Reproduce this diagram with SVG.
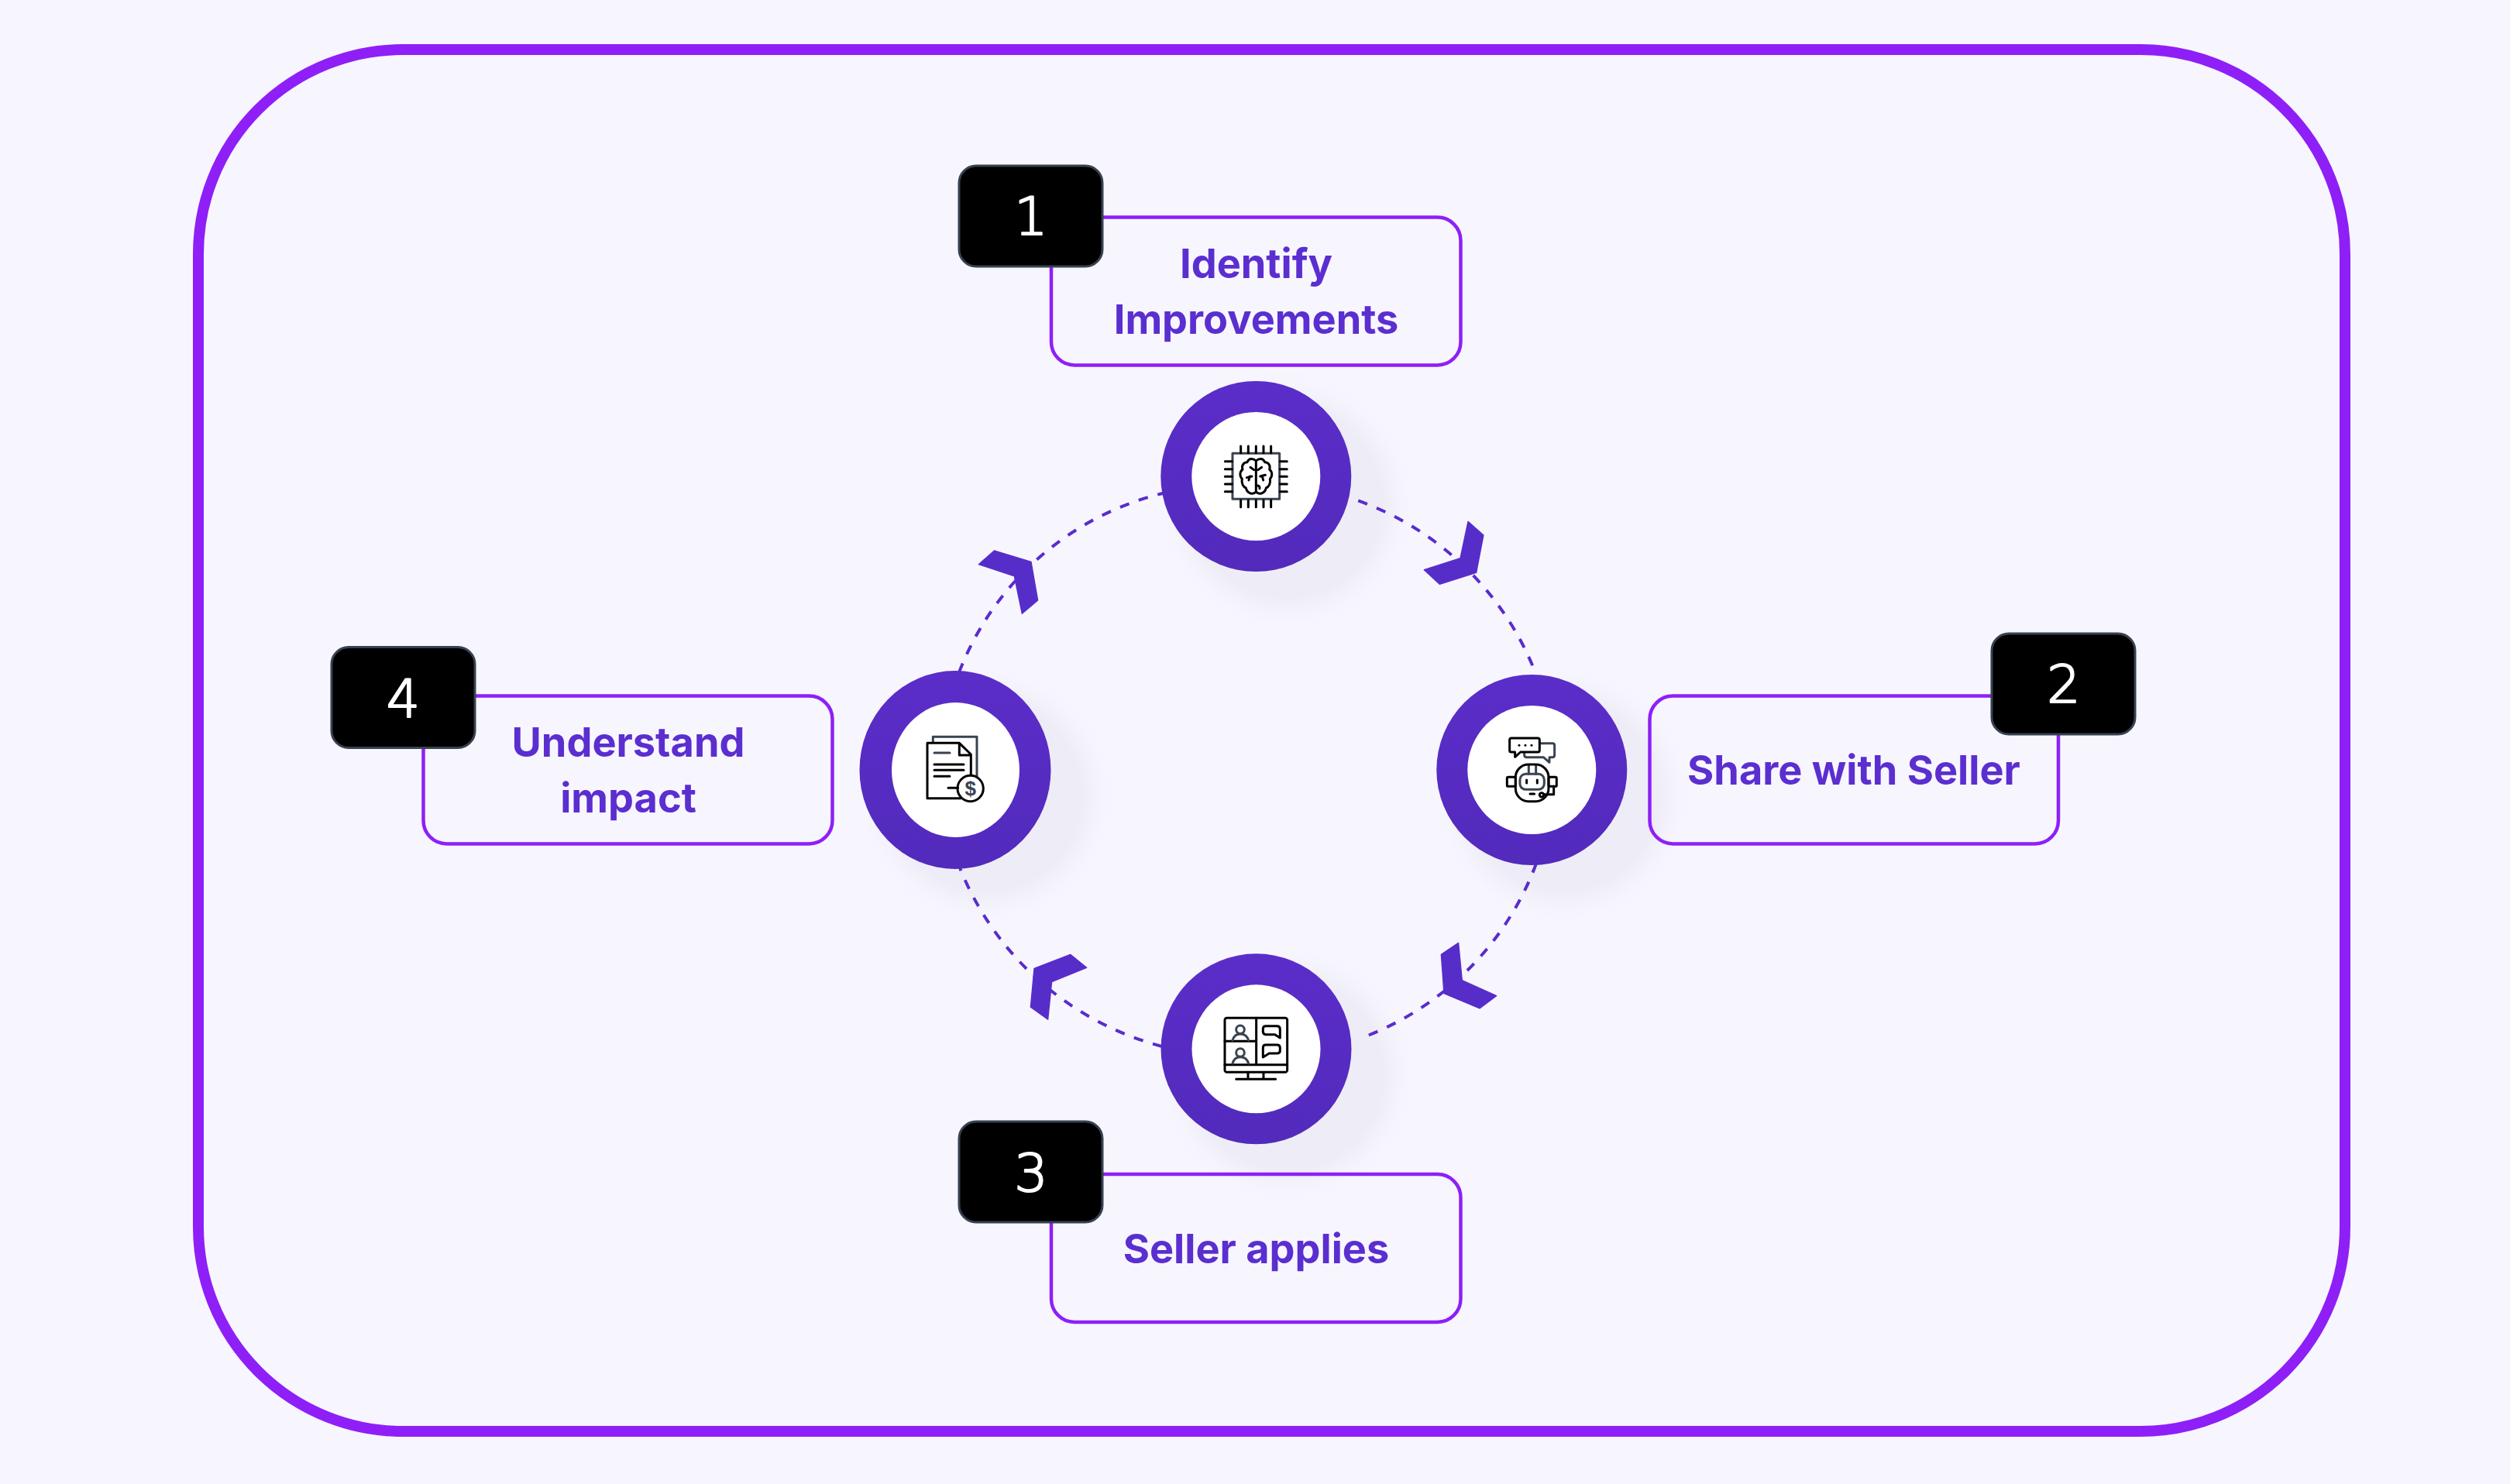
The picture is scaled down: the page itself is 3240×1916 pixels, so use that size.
<svg xmlns="http://www.w3.org/2000/svg" width="3240" height="1916" viewBox="0 0 3240 1916">
<style>
.bg{fill:#f7f6ff}
.frame{fill:none;stroke:#8f1ff7;stroke-width:14}
.box{fill:none;stroke:#8f1ff7;stroke-width:4.5}
.badge{fill:#000;stroke:#374151;stroke-width:3}
.num{font-family:"DejaVu Sans",sans-serif;font-size:68px;font-weight:200;fill:#fff;stroke:#fff;stroke-width:2.2px;stroke-linejoin:round;text-anchor:middle}
.lbl{font-family:Inter,"Liberation Sans",sans-serif;font-size:52.300px;font-weight:700;fill:#5b2ed0;text-anchor:middle}
.arc{fill:none;stroke:#582dcb;stroke-width:4;stroke-dasharray:12.5 13}
.chev{fill:#572dca;stroke:#572dca;stroke-width:4;stroke-linejoin:round}
.ring{fill:url(#ringg)}
.inner{fill:#fff}
.ic{fill:none;stroke:#000;stroke-width:9;stroke-linejoin:round;stroke-linecap:round}
.ig{fill:none;stroke:#3a4350;stroke-width:9;stroke-linejoin:round;stroke-linecap:round}
.dot{fill:#000}
.dollar{font-family:"Liberation Sans",sans-serif;font-weight:700;font-size:78px;fill:#3a4350;text-anchor:middle}
</style>
<defs>
<linearGradient id="ringg" x1="0" y1="0" x2="0" y2="1"><stop offset="0" stop-color="#5b2dc9"/><stop offset="1" stop-color="#522abc"/></linearGradient>
<radialGradient id="shad"><stop offset="0" stop-color="#eeedf7"/><stop offset=".72" stop-color="#eeedf7"/><stop offset=".8" stop-color="#f2f1fa"/><stop offset="1" stop-color="#f7f6ff" stop-opacity="0"/></radialGradient>
<g id="pinset"><path class="ic" d="M365 288V314M394 288V314M424 288V314M453 288V314M482 288V314M365 497V524M394 497V524M424 497V524M453 497V524M482 497V524M304 347H331M304 377H331M304 406H331M304 435H331M304 464H331M517 347H544M517 377H544M517 406H544M517 435H544M517 464H544"/></g>
</defs>
<rect class="bg" width="3240" height="1916"/>
<rect class="frame" x="256" y="64" width="2771" height="1784" rx="264" ry="264"/>
<g id="shadows">
<circle cx="1661" cy="648" r="170" fill="url(#shad)"/>
<circle cx="2017" cy="1027" r="170" fill="url(#shad)"/>
<circle cx="1662" cy="1387" r="170" fill="url(#shad)"/>
<circle cx="1273" cy="1027" r="170" fill="url(#shad)"/>
</g>
<g id="connectors">
<path class="arc" stroke-dashoffset="-14" d="M1740 642A386 386 0 0 1 1983 871"/>
<path class="arc" d="M1983 1115A382 382 0 0 1 1755 1341"/>
<path class="arc" d="M1500 1351A387 387 0 0 1 1238 1118"/>
<path class="arc" d="M1238 868A377 377 0 0 1 1505 636"/>
<polygon class="chev" transform="translate(1730 620) scale(.3333)" points="495,160 555,213 527,358 385,403 325,347 465,302"/>
<polygon class="chev" transform="translate(1730 1120) scale(.3333)" points="458,292 472,437 605,497 540,546 402,488 391,337"/>
<polygon class="chev" transform="translate(1220 1120) scale(.3333)" points="485,337 548,388 413,443 398,589 331,541 345,391"/>
<polygon class="chev" transform="translate(1220 640) scale(.3333)" points="190,213 333,256 359,405 298,457 268,312 130,266"/>
</g>
<g id="node-1">
<circle class="ring" cx="1621.300" cy="615" r="123"/>
<circle class="inner" cx="1621.300" cy="615" r="83"/>
<g transform="translate(1480 480) scale(.3333)">
<rect class="ig" x="333" y="316" width="182" height="177"/>
<use href="#pinset"/>
<path class="ic" d="M424 345C410 332 395 337 390 350C375 350 367 365 372 378C360 388 360 405 370 415C366 432 375 447 385 450C388 468 410 480 424 465C438 480 460 468 463 450C473 447 482 432 478 415C488 405 488 388 476 378C481 365 473 350 458 350C453 337 438 332 424 345V465M402 370L416 380M388 410L408 405M400 405L396 420M446 370L432 380M460 400L440 405M448 405L452 420M424 440Q440 440 438 452"/>
</g>
</g>
<g id="node-2">
<circle class="ring" cx="1977.300" cy="994" r="123"/>
<circle class="inner" cx="1977.300" cy="994" r="83"/>
<g transform="translate(1840 860) scale(.3333)">
<path class="ig" d="M445 299H492Q500 299 500 307V345Q500 353 492 353H480V373L457 353H392Q383 353 383 345V335"/>
<path class="ic" d="M333 279H435Q442 279 442 286V326Q442 333 435 333H368L347 352V333H333Q326 333 326 326V286Q326 279 333 279Z"/>
<circle class="dot" cx="363" cy="307" r="4.5"/><circle class="dot" cx="387" cy="307" r="4.5"/><circle class="dot" cx="411" cy="307" r="4.5"/>
<path class="ig" d="M400 383V418M428 383V418"/>
<rect class="ig" x="366" y="418" width="94" height="60" rx="22"/>
<rect class="ic" x="349" y="381" width="128" height="143" rx="50"/>
<rect class="ic" x="316" y="430" width="33" height="36" rx="5"/>
<rect class="ic" x="477" y="430" width="31" height="36" rx="5"/>
<path class="ic" d="M392 441V453M433 441V453M405 495H422M497 466V497H460"/>
<circle class="ic" cx="450" cy="499" r="8"/>
</g>
</g>
<g id="node-3">
<circle class="ring" cx="1621.500" cy="1354.300" r="123"/>
<circle class="inner" cx="1621.500" cy="1354.300" r="83"/>
<g transform="translate(1480 1220) scale(.3333)">
<rect class="ic" x="303" y="283" width="242" height="210" rx="8"/>
<path class="ic" d="M303 464H545M425 283V464M303 373H425M393 493V520M453 493V520M347 520H500"/>
<circle class="ig" cx="363" cy="328" r="16"/>
<circle class="ig" cx="363" cy="417" r="16"/>
<path class="ig" d="M333 370Q340 345 363 345Q388 345 395 370M333 459Q340 434 363 434Q388 434 395 459"/>
<path class="ic" d="M462 314H505Q517 314 517 326V360L497 347H462Q451 347 451 336V325Q451 314 462 314ZM462 387H505Q517 387 517 398V410Q517 420 505 420H475L451 435V398Q451 387 462 387Z"/>
</g>
</g>
<g id="node-4">
<ellipse class="ring" cx="1233" cy="994" rx="123.500" ry="128"/>
<ellipse class="inner" cx="1233.500" cy="994" rx="82.500" ry="87"/>
<g transform="translate(1100 860) scale(.3333)">
<path class="ig" d="M313 296V274H483V425"/>
<path class="ic" d="M415 298H291V512H420M415 298L460 342V420M415 298V345H460"/>
<path class="ig" d="M318 336H378"/>
<path class="ic" d="M318 381H432M318 403H432M318 427H378M372 472H410"/>
<circle class="ic" cx="458" cy="474" r="50" fill="#fff"/>
<text class="dollar" x="458" y="502">$</text>
</g>
</g>
<g id="step-1">
<rect class="box" x="1357" y="280.500" width="528.500" height="191" rx="30"/>
<rect class="badge" x="1238" y="214" width="185" height="130" rx="22"/>
<text class="num" x="1331" y="303">1</text>
<text class="lbl" x="1621.500" y="359">Identify</text>
<text class="lbl" x="1621.500" y="431">Improvements</text>
</g>
<g id="step-2">
<rect class="box" x="2129.500" y="898.500" width="527.500" height="191" rx="30"/>
<rect class="badge" x="2571" y="818" width="185" height="130" rx="22"/>
<text class="num" x="2664" y="906.500">2</text>
<text class="lbl" x="2393" y="1013">Share with Seller</text>
</g>
<g id="step-3">
<rect class="box" x="1357" y="1516" width="528.500" height="191" rx="30"/>
<rect class="badge" x="1238" y="1448" width="185" height="130" rx="22"/>
<text class="num" x="1331" y="1538">3</text>
<text class="lbl" x="1621.500" y="1631">Seller applies</text>
</g>
<g id="step-4">
<rect class="box" x="546.500" y="898.500" width="528" height="191" rx="30"/>
<rect class="badge" x="428" y="835.500" width="185" height="130" rx="22"/>
<text class="num" x="520.500" y="925.500">4</text>
<text class="lbl" x="811" y="977">Understand</text>
<text class="lbl" x="811" y="1049">impact</text>
</g>
</svg>
